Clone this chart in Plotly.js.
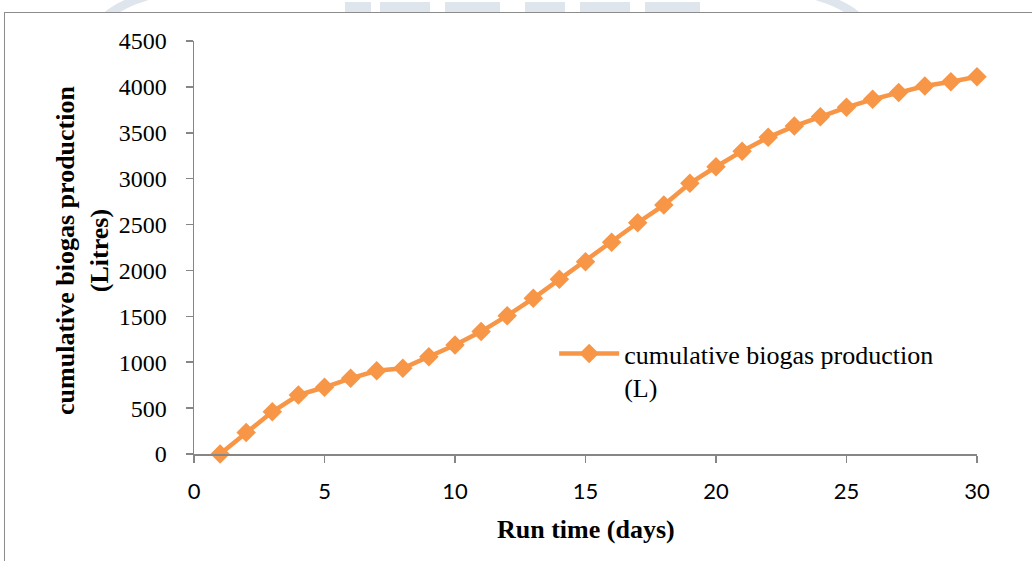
<!DOCTYPE html>
<html>
<head>
<meta charset="utf-8">
<script src="https://cdn.plot.ly/plotly-3.0.1.min.js"></script>
<style>
  html, body { margin: 0; padding: 0; background: #fff; }
  #wrap { position: relative; width: 1032px; height: 561px; overflow: hidden; }
  #chart { position: absolute; left: 0; top: 0; width: 1032px; height: 561px; }
  #frame { position: absolute; left: 4px; top: 12px; width: 1100px; height: 600px;
           border-top: 1.5px solid #8c8c8c; border-left: 1.5px solid #8c8c8c; pointer-events: none; }
  #wm { position: absolute; left: 0; top: 0; width: 1032px; height: 12px; overflow: hidden; pointer-events: none; }
  #wm .oval { position: absolute; left: 97px; top: -44px; width: 770px; height: 140px;
              border: 12px solid #dfe5ec; border-radius: 50%; box-sizing: border-box; }
  #wm .blk { position: absolute; top: 2px; height: 12px; background: #dfe5ec; }
</style>
</head>
<body>
<div id="wrap">
  <div id="chart"></div>
  <div id="wm">
    <div class="oval"></div>
    <div class="blk" style="left:345px;width:26px"></div>
    <div class="blk" style="left:380px;width:50px"></div>
    <div class="blk" style="left:445px;width:55px"></div>
    <div class="blk" style="left:525px;width:40px"></div>
    <div class="blk" style="left:580px;width:50px"></div>
    <div class="blk" style="left:645px;width:55px"></div>
  </div>
  <div id="frame"></div>
</div>
<script>
const days = [1,2,3,4,5,6,7,8,9,10,11,12,13,14,15,16,17,18,19,20,21,22,23,24,25,26,27,28,29,30];
const cumulativeBiogas = [0,235,460,643,727,825,907,934,1060,1187,1334,1507,1696,1903,2095,2306,2520,2712,2949,3130,3300,3450,3573,3674,3777,3864,3940,4009,4056,4110];
const seriesName = 'cumulative biogas production<br>(L)';
const xTitle = 'Run time (days)';
const yTitle = 'cumulative biogas production<br>(Litres)';
const xTicks = [0,5,10,15,20,25,30];
const yTicks = [0,500,1000,1500,2000,2500,3000,3500,4000,4500];

const trace = {
  x: days, y: cumulativeBiogas, name: seriesName,
  type: 'scatter', mode: 'lines+markers', cliponaxis: false,
  line: { color: '#F79646', width: 4.5 },
  marker: { symbol: 'diamond', size: 15, color: '#F79646' }
};

const layout = {
  width: 1032, height: 561,
  margin: { l: 194, r: 55, t: 41, b: 107, pad: 0 },
  paper_bgcolor: '#ffffff', plot_bgcolor: '#ffffff',
  showlegend: true,
  legend: {
    x: 0.46, y: 0.30, xanchor: 'left', yanchor: 'top',
    bgcolor: 'rgba(0,0,0,0)', valign: 'top', itemwidth: 60,
    font: { family: 'Liberation Serif, Times New Roman, serif', size: 26, color: '#000' }
  },
  xaxis: {
    range: [0, 30], tickmode: 'array', tickvals: xTicks, ticktext: xTicks.map(String),
    showgrid: false, zeroline: false, showline: true, linecolor: '#868686', linewidth: 1.5,
    ticks: 'outside', ticklen: 7, tickcolor: '#868686', tickwidth: 1.5,
    tickfont: { family: 'Lato, Open Sans, sans-serif', size: 22, color: '#000' },
    ticklabelstandoff: 10,
    fixedrange: true
  },
  yaxis: {
    range: [0, 4500], tickmode: 'array', tickvals: yTicks, ticktext: yTicks.map(String),
    showgrid: false, zeroline: false, showline: true, linecolor: '#868686', linewidth: 1.5,
    ticks: 'outside', ticklen: 7, tickcolor: '#868686', tickwidth: 1.5,
    tickfont: { family: 'Liberation Serif, Times New Roman, serif', size: 24, color: '#000' },
    ticklabelstandoff: 14,
    fixedrange: true
  },
  annotations: [
    { text: '<b>' + xTitle + '</b>', xref: 'paper', yref: 'paper', x: 0.5006, y: -0.184,
      xanchor: 'center', yanchor: 'middle', showarrow: false,
      font: { family: 'Liberation Serif, Times New Roman, serif', size: 26, color: '#000' } },
    { text: '<b>' + yTitle + '</b>', xref: 'paper', yref: 'paper', x: -0.1418, y: 0.494,
      xanchor: 'center', yanchor: 'middle', showarrow: false, textangle: -90,
      font: { family: 'Liberation Serif, Times New Roman, serif', size: 26, color: '#000' } }
  ]
};

Plotly.newPlot('chart', [trace], layout, { displayModeBar: false, staticPlot: true });
</script>
</body>
</html>
